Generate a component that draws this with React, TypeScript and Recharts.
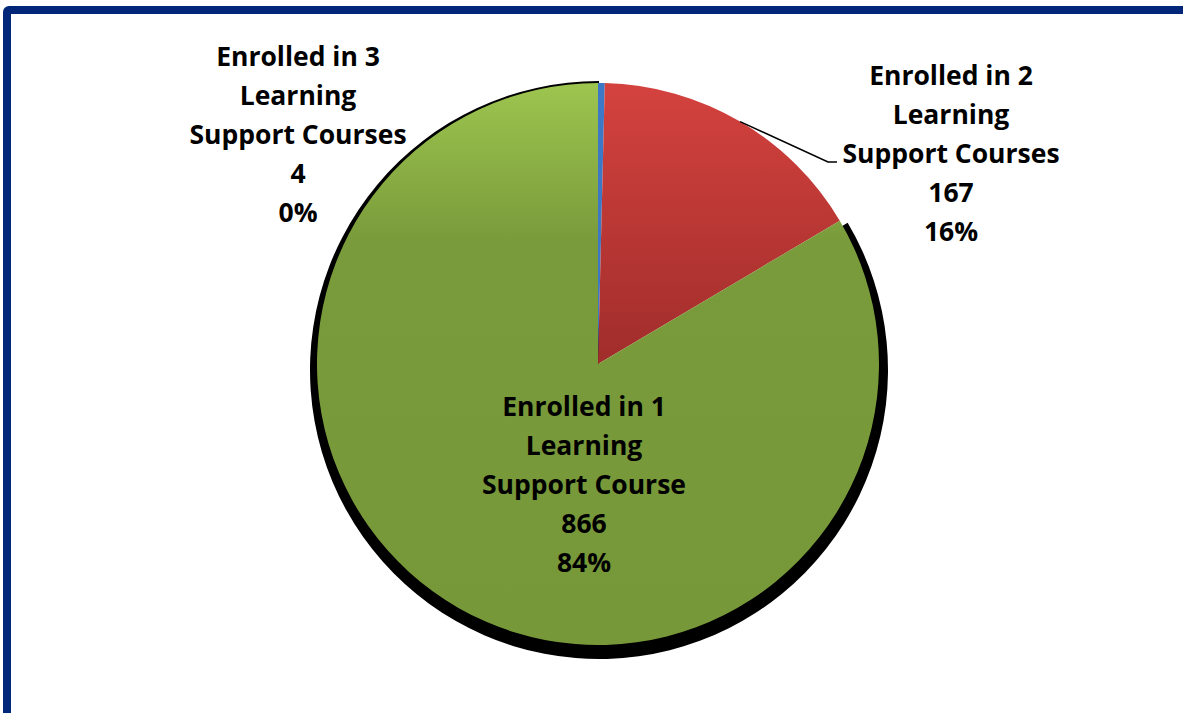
import { PieChart, Pie, Cell } from "recharts"

const categories = [
  "Enrolled in 3 Learning Support Courses",
  "Enrolled in 2 Learning Support Courses",
  "Enrolled in 1 Learning Support Course",
]
const categoryLines = [
  ["Enrolled in 3", "Learning", "Support Courses"],
  ["Enrolled in 2", "Learning", "Support Courses"],
  ["Enrolled in 1", "Learning", "Support Course"],
]
const students = [4, 167, 866]

const fills = ["#3d78c6", "url(#redGrad)", "url(#greenGrad)"]

// label block centre relative to the pie centre
const labelOffsets = [
  { dx: -300, dy: -230 },
  { dx: 353, dy: -211 },
  { dx: -14, dy: 120 },
]

const CX = 598
const CY = 364
const R = 281
const LINE_H = 39
const RADIAN = Math.PI / 180

const data = categories.map((name, i) => ({ name, value: students[i] }))

function renderLabel(props: any) {
  const { cx, cy, midAngle, outerRadius, percent, index, value } = props
  const off = labelOffsets[index]
  const lx = cx + off.dx
  const ly = cy + off.dy
  const lines = [...categoryLines[index], String(value), `${Math.round(percent * 100)}%`]
  const top = ly - ((lines.length - 1) * LINE_H) / 2

  let leader = null
  if (index === 1) {
    const sx = cx + outerRadius * Math.cos(-midAngle * RADIAN)
    const sy = cy + outerRadius * Math.sin(-midAngle * RADIAN)
    const ey = top + 2 * LINE_H + 9
    const ex = lx - 114
    leader = (
      <polyline
        points={`${sx},${sy} ${ex - 9},${ey} ${ex},${ey}`}
        fill="none"
        stroke="#000"
        strokeWidth={1.5}
      />
    )
  }

  return (
    <g key={`lbl-${index}`}>
      {leader}
      {lines.map((t, i) => (
        <text
          key={i}
          x={lx}
          y={top + i * LINE_H}
          textAnchor="middle"
          dominantBaseline="central"
          fill="#000"
          fontFamily="'Open Sans', sans-serif"
          fontWeight={700}
          fontSize={26.5}
        >
          {t}
        </text>
      ))}
    </g>
  )
}

export default function App() {
  return (
    <div
      style={{
        position: "fixed",
        left: 0,
        top: 0,
        width: 1183,
        height: 713,
        overflow: "hidden",
        background: "#fff",
      }}
    >
      <div
        style={{
          position: "absolute",
          left: 3,
          top: 6,
          width: 1220,
          height: 740,
          border: "8px solid #00267a",
          borderRadius: 6,
        }}
      />
      <div style={{ position: "absolute", left: 0, top: 0 }}>
        <PieChart width={1183} height={713} margin={{ top: 0, right: 0, bottom: 0, left: 0 }}>
          <defs>
            <linearGradient id="redGrad" x1="0" y1="0" x2="0" y2="1">
              <stop offset="0%" stopColor="#d4423e" />
              <stop offset="100%" stopColor="#a02d2b" />
            </linearGradient>
            <linearGradient id="greenGrad" x1="0" y1="0" x2="0" y2="1">
              <stop offset="0%" stopColor="#9dc54f" />
              <stop offset="28%" stopColor="#7a9b3b" />
              <stop offset="100%" stopColor="#779839" />
            </linearGradient>
          </defs>
          {/* drop shadow behind the large slice */}
          <Pie
            data={data}
            dataKey="value"
            cx={CX + 1}
            cy={CY + 6}
            outerRadius={R + 8}
            startAngle={90}
            endAngle={-270}
            stroke="none"
            isAnimationActive={false}
          >
            {data.map((_, i) => (
              <Cell key={i} fill={i === 2 ? "#000" : "transparent"} />
            ))}
          </Pie>
          <Pie
            data={data}
            dataKey="value"
            cx={CX}
            cy={CY}
            outerRadius={R}
            startAngle={90}
            endAngle={-270}
            stroke="none"
            label={renderLabel}
            labelLine={false}
            isAnimationActive={false}
          >
            {data.map((_, i) => (
              <Cell key={i} fill={fills[i]} />
            ))}
          </Pie>
        </PieChart>
      </div>
    </div>
  )
}
